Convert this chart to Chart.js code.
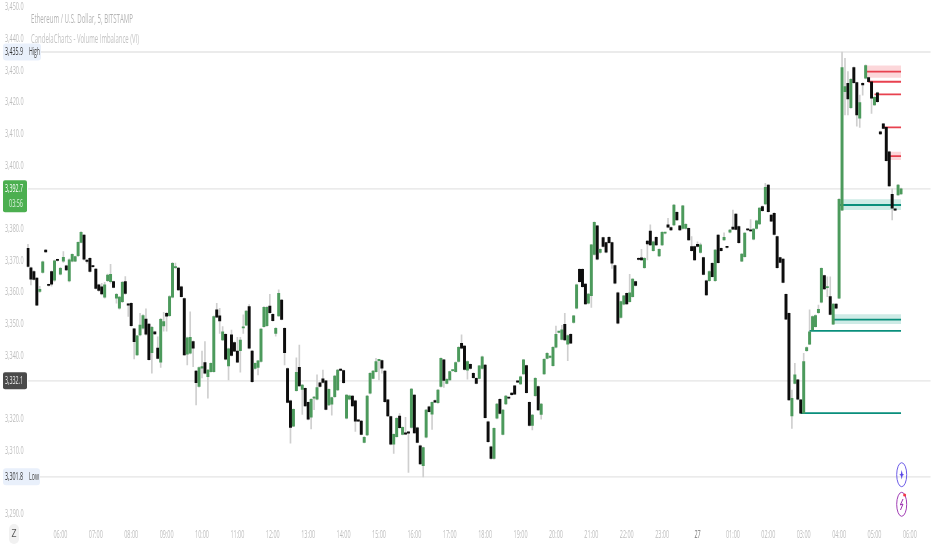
<!DOCTYPE html>
<html><head><meta charset="utf-8">
<style>html,body{margin:0;padding:0;background:#fff}canvas{display:block;filter:blur(0.35px)}</style>
<script src="https://cdn.jsdelivr.net/npm/chart.js@4/dist/chart.umd.js"></script>
</head><body><canvas id="c" width="932" height="550"></canvas>
<script>
const yTickValues=[3290,3310,3320,3340,3350,3360,3370,3380,3400,3410,3420,3430,3440,3450];
const highLevel=3435.9, lastPrice=3392.7, prevPrice=3332.1, lowLevel=3301.8;
const opens=[3373.9,3367.8,3366.6,3364.5,3360.3,3366.3,3373.4,3362.4,3366.6,3363.9,
3370.3,3365.8,3369.9,3368.4,3363.6,3369.9,3369.9,3371.6,3375.8,3378.1,
3370.0,3370.8,3368.2,3367.4,3362.4,3361.8,3358.5,3363.7,3363.4,3363.4,
3358.2,3355.0,3357.1,3363.4,3356.2,3356.6,3348.5,3340.3,3346.6,3348.7,
3351.6,3350.0,3341.0,3347.6,3342.4,3338.0,3349.4,3353.4,3352.7,3358.5,
3367.8,3367.7,3361.8,3358.1,3340.5,3340.8,3344.5,3335.2,3330.3,3336.1,
3337.9,3333.4,3335.0,3335.0,3354.5,3352.6,3345.0,3346.8,3336.8,3346.6,
3344.2,3341.5,3341.6,3348.8,3349.7,3355.5,3341.5,3336.0,3336.3,3338.2,
3349.2,3349.5,3355.7,3353.1,3347.1,3352.6,3357.6,3348.7,3336.0,3325.8,
3317.8,3329.0,3336.4,3329.4,3329.7,3325.3,3320.6,3326.6,3326.3,3331.5,
3332.7,3332.1,3324.5,3324.7,3327.1,3329.2,3335.5,3335.3,3320.3,3326.3,
3327.3,3325.8,3319.6,3319.4,3312.7,3315.0,3328.2,3332.9,3335.0,3338.5,
3338.5,3335.2,3326.1,3320.8,3312.1,3314.5,3321.0,3315.2,3315.6,3315.8,
3317.4,3327.6,3317.3,3311.6,3305.3,3314.3,3323.9,3321.6,3325.9,3325.2,
3330.3,3338.7,3331.3,3332.4,3335.3,3335.0,3338.2,3343.9,3343.1,3335.5,
3337.3,3334.5,3332.9,3332.9,3336.0,3337.1,3319.2,3311.3,3307.6,3320.3,
3326.3,3315.2,3324.8,3326.7,3328.2,3330.5,3331.9,3331.1,3334.3,3336.9,
3325.3,3318.0,3327.4,3330.3,3321.5,3334.3,3339.2,3339.5,3336.9,3342.7,
3347.4,3345.2,3349.9,3343.7,3346.8,3350.5,3355.0,3367.3,3367.3,3362.6,
3356.6,3359.0,3372.0,3381.0,3372.6,3377.3,3375.7,3377.4,3375.7,3368.5,
3359.9,3352.1,3356.3,3359.7,3357.1,3358.7,3363.4,3370.5,3370.9,3367.8,
3376.2,3379.4,3373.2,3377.4,3371.5,3375.0,3378.7,3381.3,3380.5,3381.3,
3385.3,3381.0,3380.2,3380.2,3380.2,3374.5,3374.5,3375.2,3372.6,3371.0,
3363.7,3363.7,3369.2,3363.7,3378.1,3373.9,3376.6,3374.3,3379.0,3380.6,
3384.7,3380.8,3369.9,3371.3,3379.8,3379.7,3376.8,3380.2,3381.6,3387.1,
3387.9,3393.9,3384.4,3385.0,3377.6,3371.0,3370.5,3359.4,3353.4,3321.0,
3331.3,3332.4,3326.1,3321.9,3341.6,3343.7,3348.2,3349.2,3353.6,3356.9,
3365.3,3361.5,3358.7,3350.0,3356.3,3358.2,3386.0,3423.4,3426.0,3418.3,
3431.0,3426.2,3415.0,3426.0,3427.6,3427.8,3426.5,3419.2,3423.0,3410.7,
3413.2,3412.1,3404.4,3391.0,3386.1,3390.8,3391.1];
const closes=[3368.2,3364.2,3364.1,3356.0,3361.0,3369.7,3372.8,3362.2,3362.6,3370.0,
3370.1,3367.6,3371.1,3367.1,3370.3,3372.0,3371.3,3375.8,3379.0,3370.5,
3369.8,3366.6,3368.1,3361.3,3360.6,3359.5,3362.4,3365.5,3365.7,3361.6,
3359.4,3358.5,3363.2,3359.7,3356.0,3349.5,3344.5,3346.3,3349.7,3352.7,
3346.8,3338.8,3349.0,3346.9,3339.2,3351.5,3350.8,3352.5,3358.7,3369.2,
3367.9,3360.8,3358.7,3340.3,3345.7,3345.8,3342.4,3331.5,3336.3,3336.6,
3334.5,3335.5,3337.6,3352.4,3352.2,3351.0,3347.6,3338.9,3342.2,3340.1,
3341.5,3338.0,3345.0,3349.0,3354.1,3342.4,3331.8,3337.6,3338.4,3348.4,
3355.3,3355.3,3353.6,3351.1,3348.7,3359.7,3351.5,3341.0,3325.3,3317.4,
3323.1,3334.8,3330.5,3330.8,3324.2,3320.0,3326.3,3326.7,3330.0,3330.3,
3331.6,3323.1,3329.4,3326.8,3333.6,3335.5,3335.4,3331.5,3327.6,3327.4,
3324.2,3319.4,3319.4,3315.2,3314.3,3327.3,3334.5,3335.2,3338.2,3338.6,
3336.1,3325.5,3321.0,3312.1,3315.2,3320.3,3317.3,3317.4,3315.3,3315.6,
3329.5,3315.7,3312.7,3305.9,3311.0,3322.9,3322.4,3325.3,3325.4,3329.2,
3339.2,3332.2,3332.6,3335.0,3335.4,3337.9,3342.7,3342.4,3335.7,3338.2,
3336.0,3333.1,3331.3,3336.8,3339.7,3320.5,3312.9,3307.6,3317.1,3324.8,
3321.8,3322.9,3327.3,3326.6,3327.7,3327.9,3331.7,3333.4,3338.7,3328.4,
3318.0,3321.3,3332.9,3322.9,3324.8,3338.9,3340.8,3339.7,3342.7,3346.8,
3347.5,3348.2,3345.0,3346.4,3344.0,3352.6,3362.4,3363.4,3361.8,3356.4,
3359.5,3375.0,3382.1,3370.5,3373.6,3374.5,3372.7,3375.7,3369.2,3362.9,
3350.3,3357.1,3358.9,3356.4,3359.9,3364.2,3362.2,3370.4,3370.3,3370.8,
3375.3,3375.0,3376.0,3375.0,3373.6,3379.0,3378.8,3380.6,3379.7,3387.6,
3382.9,3379.7,3387.3,3381.5,3376.6,3373.2,3370.3,3374.5,3375.0,3365.7,
3359.2,3366.6,3365.0,3373.4,3369.4,3373.2,3377.4,3374.2,3379.7,3380.0,
3379.9,3375.7,3372.1,3378.7,3379.7,3379.4,3380.0,3382.6,3386.6,3385.8,
3393.2,3385.5,3382.5,3378.3,3367.8,3369.5,3363.2,3351.6,3326.1,3326.6,
3334.0,3326.3,3321.9,3338.2,3342.6,3347.6,3352.4,3352.7,3354.7,3367.6,
3361.1,3361.6,3353.1,3356.3,3355.0,3389.4,3431.0,3425.0,3421.1,3427.3,
3426.2,3416.0,3419.9,3425.5,3431.6,3426.5,3421.3,3421.6,3420.2,3410.0,
3411.8,3401.6,3393.6,3386.6,3386.0,3393.9,3392.7];
const highs=[3375.2,3368.0,3366.9,3364.7,3361.9,3369.9,3373.6,3362.6,3366.8,3370.2,
3370.5,3367.9,3372.9,3368.6,3370.6,3372.2,3371.5,3376.0,3379.2,3378.3,
3370.3,3371.0,3368.4,3367.6,3362.6,3362.9,3363.2,3365.8,3368.9,3363.6,
3359.7,3358.8,3363.5,3365.0,3356.5,3356.8,3348.7,3346.5,3353.4,3353.0,
3354.8,3350.2,3349.3,3347.8,3346.0,3351.8,3353.7,3353.7,3359.0,3369.5,
3369.3,3367.9,3362.0,3358.3,3345.9,3353.9,3344.7,3335.4,3336.5,3341.5,
3344.5,3335.7,3337.8,3352.6,3356.6,3355.0,3349.2,3347.0,3342.4,3348.1,
3344.4,3345.8,3345.8,3352.9,3354.3,3356.2,3341.7,3337.8,3338.6,3348.6,
3355.5,3355.5,3359.4,3353.3,3348.9,3360.8,3357.8,3348.9,3336.2,3326.0,
3323.3,3339.4,3343.4,3331.0,3329.9,3325.5,3326.5,3327.2,3334.0,3331.7,
3335.5,3332.3,3329.6,3327.0,3333.8,3335.7,3335.9,3335.5,3327.8,3327.6,
3327.5,3326.0,3319.8,3319.6,3314.5,3327.5,3334.7,3335.4,3339.2,3338.8,
3338.7,3335.4,3326.3,3321.0,3315.4,3320.5,3321.8,3317.6,3320.6,3316.0,
3329.7,3327.8,3317.5,3311.8,3311.2,3323.1,3324.1,3325.5,3326.1,3329.4,
3339.4,3338.9,3332.8,3335.2,3335.6,3338.1,3342.9,3346.6,3343.3,3338.4,
3337.5,3334.7,3333.1,3337.0,3339.9,3337.3,3319.4,3311.5,3317.3,3325.0,
3326.5,3323.1,3327.5,3326.9,3328.4,3330.7,3332.1,3333.6,3338.9,3337.1,
3325.5,3321.5,3333.1,3330.5,3325.0,3339.1,3341.0,3339.9,3342.9,3349.4,
3347.7,3349.6,3353.4,3346.6,3347.0,3352.8,3362.6,3367.5,3367.5,3362.8,
3359.7,3375.2,3382.3,3381.2,3373.8,3377.5,3375.9,3377.6,3375.9,3368.7,
3360.1,3357.3,3359.1,3359.9,3365.7,3364.4,3363.6,3371.0,3373.6,3371.0,
3376.4,3381.3,3376.2,3377.6,3373.8,3379.2,3379.0,3383.4,3380.7,3387.8,
3385.5,3381.2,3387.5,3381.7,3380.4,3377.6,3374.7,3376.0,3375.6,3371.2,
3363.9,3366.8,3369.4,3373.6,3378.3,3374.1,3378.8,3374.4,3379.9,3386.0,
3384.9,3381.0,3372.3,3378.9,3380.0,3383.0,3380.2,3382.8,3386.8,3387.3,
3394.4,3394.1,3384.6,3385.2,3377.8,3371.2,3370.7,3359.6,3353.6,3329.2,
3337.6,3332.6,3326.3,3340.8,3342.8,3354.5,3352.6,3352.9,3356.0,3367.8,
3365.5,3364.9,3364.9,3356.5,3356.5,3389.6,3435.9,3433.9,3429.7,3427.5,
3431.2,3426.4,3422.3,3426.2,3431.8,3428.0,3426.7,3421.8,3423.2,3410.9,
3413.4,3412.3,3404.6,3392.7,3386.3,3394.1,3392.9];
const lows=[3368.0,3362.4,3363.9,3355.8,3360.0,3366.1,3372.6,3362.0,3362.0,3363.5,
3369.9,3365.5,3369.5,3366.9,3363.3,3369.6,3369.7,3371.3,3375.6,3370.2,
3369.2,3366.4,3367.9,3361.0,3360.3,3359.2,3358.2,3363.4,3362.9,3361.4,
3356.6,3354.7,3356.8,3359.4,3352.4,3349.3,3339.0,3340.1,3346.3,3348.4,
3346.5,3338.6,3334.5,3346.7,3339.0,3336.3,3347.8,3347.8,3352.4,3358.3,
3367.5,3360.6,3358.5,3340.1,3337.1,3340.6,3336.6,3324.5,3330.1,3333.0,
3334.3,3326.6,3334.8,3334.8,3352.0,3347.1,3344.8,3338.7,3332.4,3339.9,
3341.3,3337.8,3334.8,3347.1,3349.5,3342.2,3331.6,3335.8,3334.0,3338.0,
3349.0,3349.3,3353.4,3350.9,3346.2,3352.4,3351.3,3337.1,3325.1,3312.4,
3317.6,3328.8,3330.3,3321.5,3324.0,3319.8,3316.9,3323.0,3326.1,3330.1,
3331.4,3322.9,3324.3,3321.3,3326.9,3329.0,3335.2,3331.3,3320.1,3326.1,
3324.0,3316.1,3319.2,3315.0,3312.5,3314.8,3328.0,3332.7,3334.8,3332.4,
3334.5,3325.3,3320.8,3311.9,3309.2,3314.3,3317.1,3315.0,3315.1,3303.2,
3317.2,3315.5,3312.5,3305.7,3301.8,3314.1,3322.2,3316.8,3325.2,3325.0,
3330.1,3330.0,3331.1,3332.2,3335.1,3334.8,3338.0,3342.2,3335.5,3332.6,
3335.8,3332.9,3331.1,3332.7,3335.8,3320.3,3312.7,3307.4,3307.4,3320.1,
3321.6,3315.0,3324.6,3326.4,3327.5,3327.7,3331.5,3330.9,3334.1,3328.2,
3317.8,3316.6,3327.2,3322.7,3320.0,3334.1,3339.0,3339.3,3336.7,3342.5,
3347.2,3345.0,3344.8,3338.5,3343.8,3350.3,3354.8,3363.2,3361.6,3356.2,
3356.4,3355.3,3371.8,3370.3,3372.4,3374.3,3372.5,3375.5,3367.6,3362.7,
3350.1,3351.9,3356.1,3356.2,3356.9,3358.5,3362.0,3370.2,3370.1,3367.6,
3370.3,3374.8,3373.0,3374.8,3371.3,3374.8,3378.5,3380.4,3379.5,3381.1,
3382.7,3379.5,3380.0,3380.0,3376.4,3373.0,3370.1,3374.3,3372.4,3365.5,
3359.0,3363.5,3364.8,3363.5,3369.2,3373.0,3376.4,3374.0,3378.8,3379.8,
3379.7,3375.5,3369.7,3371.1,3379.5,3379.2,3376.6,3380.0,3381.4,3385.6,
3387.7,3385.3,3382.3,3378.1,3367.6,3369.3,3363.0,3351.4,3325.9,3317.1,
3331.1,3326.1,3321.7,3321.7,3341.4,3343.5,3348.0,3349.0,3353.4,3356.7,
3360.9,3358.7,3352.9,3349.8,3354.8,3358.0,3385.8,3416.0,3416.0,3418.1,
3426.0,3412.5,3412.1,3422.3,3427.4,3426.3,3416.5,3419.0,3420.0,3409.8,
3411.6,3401.4,3393.4,3382.9,3385.8,3390.6,3390.9];
// Volume-imbalance zones: first candle index, band top, band bottom, centre level
const redZones=[[284,3431.6,3427.8,3429.7],[285,3426.6,3426.4,3426.5],[287,3422.6,3422.4,3422.5],[290,3412.2,3412.0,3412.1],[292,3404.4,3401.8,3403.0]];
const tealZones=[[275,3389.4,3386.0,3387.6],[273,3353.1,3350.0,3351.4],[265,3348.0,3347.8,3347.9],[262,3322.0,3321.8,3321.9]];
const zoneEnd=296;
const slotCount=307;
const categories=[];
for(let i=0;i<slotCount;i++){const m=(305+5*i)%1440;categories.push(String(Math.floor(m/60)).padStart(2,'0')+':'+String(m%60).padStart(2,'0'));}

const GREEN='#4c9a5c',BLACK='#0d0d0d',WICK='#cfcfcf',LEVEL='#e4e4e4',AXIS='#bdbdbd';
const RED='#e8414f',TEAL='#0a8f7c';
const blank=()=>new Array(slotCount).fill(null);
function span(start,val){const a=blank();for(let i=start;i<=zoneEnd;i++)a[i]=val;return a;}
function level(v,label){return {type:'line',label,data:new Array(slotCount).fill(v),borderColor:LEVEL,borderWidth:1.4,pointRadius:0,order:9};}
function zoneSets(list,line,band){const out=[];list.forEach((z,k)=>{
  out.push({type:'line',label:'band'+k,data:span(z[0],z[1]),borderWidth:0,borderColor:'transparent',pointRadius:0,fill:{value:z[2]},backgroundColor:band,order:8,spanGaps:false});
  out.push({type:'line',label:'level'+k,data:span(z[0],z[3]),borderColor:line,borderWidth:1.8,pointRadius:0,order:2,spanGaps:false});
});return out;}

const canvas=document.getElementById('c');
const rawCtx=canvas.getContext('2d');
const rawFill=CanvasRenderingContext2D.prototype.fillText;
// the reference's axis text is horizontally squeezed
const TICK_SQUEEZE=0.52;
rawCtx.fillText=function(t,x,y){this.save();this.translate(x,y);this.scale(TICK_SQUEEZE,1);rawFill.call(this,t,0,0);this.restore();};

function textFit(ctx,t,x,y,size,width,color,weight){
  ctx.save();ctx.font=(weight||'400')+' '+size+'px "Open Sans"';ctx.fillStyle=color;ctx.textBaseline='middle';ctx.textAlign='left';
  const w=ctx.measureText(t).width;ctx.translate(x,y);ctx.scale(width/w,1);rawFill.call(ctx,t,0,0);ctx.restore();
}
function rr(ctx,x,y,w,h,r,fill){ctx.fillStyle=fill;ctx.beginPath();ctx.roundRect(x,y,w,h,r);ctx.fill();}
const overlay={id:'overlay',afterDraw(chart){
  const ctx=chart.ctx,Y=chart.scales.y;
  textFit(ctx,'Ethereum / U.S. Dollar, 5, BITSTAMP',31,20,12,102,'#b5b5b5');
  textFit(ctx,'CandelaCharts - Volume Imbalance (VI)',31,40,12,108,'#c4c4c4');
  const yh=Y.getPixelForValue(highLevel),yl=Y.getPixelForValue(lowLevel),yp=Y.getPixelForValue(lastPrice),yg=Y.getPixelForValue(prevPrice);
  rr(ctx,3,yh-8.5,38,17,3,'#e9f0fb');textFit(ctx,'3,435.9',5,yh,11,18,'#333');textFit(ctx,'High',29,yh,11,11,'#444');
  rr(ctx,3,yl-8.5,37,17,3,'#e9f0fb');textFit(ctx,'3,301.8',5,yl,11,18,'#333');textFit(ctx,'Low',29,yl,11,10,'#444');
  rr(ctx,3,yp-8.5,24,32,2,'#4caf50');textFit(ctx,'3,392.7',5,yp,11,18,'#fff');textFit(ctx,'03:56',9,yp+15,11,14,'#d9f0da');
  rr(ctx,3,yg-8.5,24,17,2,'#4a4a4a');textFit(ctx,'3,332.1',5,yg,11,18,'#eee');
  rr(ctx,9,524,10,20,5,'#f1f1f1');textFit(ctx,'Z',11.5,534,11,5,'#555');
  ctx.save();ctx.lineWidth=1;
  ctx.strokeStyle='#6c5ce7';ctx.beginPath();ctx.ellipse(901.7,474.7,5,12,0,0,Math.PI*2);ctx.stroke();
  ctx.fillStyle='#5a48e8';ctx.beginPath();ctx.moveTo(901.7,470);ctx.lineTo(902.6,473.9);ctx.lineTo(904.2,474.7);ctx.lineTo(902.6,475.5);ctx.lineTo(901.7,479.4);ctx.lineTo(900.8,475.5);ctx.lineTo(899.2,474.7);ctx.lineTo(900.8,473.9);ctx.closePath();ctx.fill();
  ctx.strokeStyle='#a03cb4';ctx.beginPath();ctx.ellipse(901.7,504.3,5,12,0,0,Math.PI*2);ctx.stroke();
  ctx.strokeStyle='#9c2fb0';ctx.lineWidth=1;ctx.beginPath();ctx.moveTo(903,499);ctx.lineTo(900.3,505);ctx.lineTo(903,504);ctx.lineTo(900.5,510);ctx.stroke();
  ctx.fillStyle='#f23645';ctx.beginPath();ctx.arc(904.6,495,1.5,0,Math.PI*2);ctx.fill();
  ctx.restore();
}};

new Chart(canvas,{
  data:{labels:categories,datasets:[
    level(highLevel,'High'),level(lastPrice,'Last'),level(prevPrice,'Prev'),level(lowLevel,'Low'),
    ...zoneSets(redZones,RED,'rgba(242,54,69,0.20)'),
    ...zoneSets(tealZones,TEAL,'rgba(8,153,129,0.20)'),
    {type:'bar',label:'wicks',data:highs.map((h,i)=>[lows[i],h]),backgroundColor:WICK,barThickness:1,grouped:false,order:3},
    {type:'bar',label:'bodies',data:opens.map((o,i)=>[o,closes[i]]),backgroundColor:opens.map((o,i)=>closes[i]>=o?GREEN:BLACK),barThickness:2.3,minBarLength:1.2,grouped:false,order:1}
  ]},
  options:{responsive:false,animation:false,devicePixelRatio:1,
    layout:{padding:0},
    plugins:{legend:{display:false},tooltip:{enabled:false},title:{display:false}},
    scales:{
      x:{type:'category',offset:true,grid:{display:false,drawTicks:false},border:{display:false},
        afterFit(s){s.height=25;s.paddingLeft=0;s.paddingRight=0;},
        ticks:{autoSkip:false,maxRotation:0,minRotation:0,padding:4,
          font:{family:'"Open Sans"',size:10.5},
          color:(c)=>c.tick&&c.tick.label==='27'?'#777':AXIS,
          callback(v){const t=this.getLabelForValue(v);if(!t.endsWith(':00'))return '';return t==='00:00'?'27':t;}}},
      y:{type:'linear',min:3286.6,max:3452.3,grid:{display:false,drawTicks:false},border:{display:false},
        afterFit(s){s.width=26.5;s.paddingTop=0;s.paddingBottom=0;},
        afterBuildTicks(s){s.ticks=yTickValues.map(value=>({value}));},
        ticks:{padding:3,font:{family:'"Open Sans"',size:10.5},color:AXIS,
          callback:(v)=>v.toLocaleString('en-US',{minimumFractionDigits:1,maximumFractionDigits:1})}}
    }},
  plugins:[overlay]
});
</script></body></html>
